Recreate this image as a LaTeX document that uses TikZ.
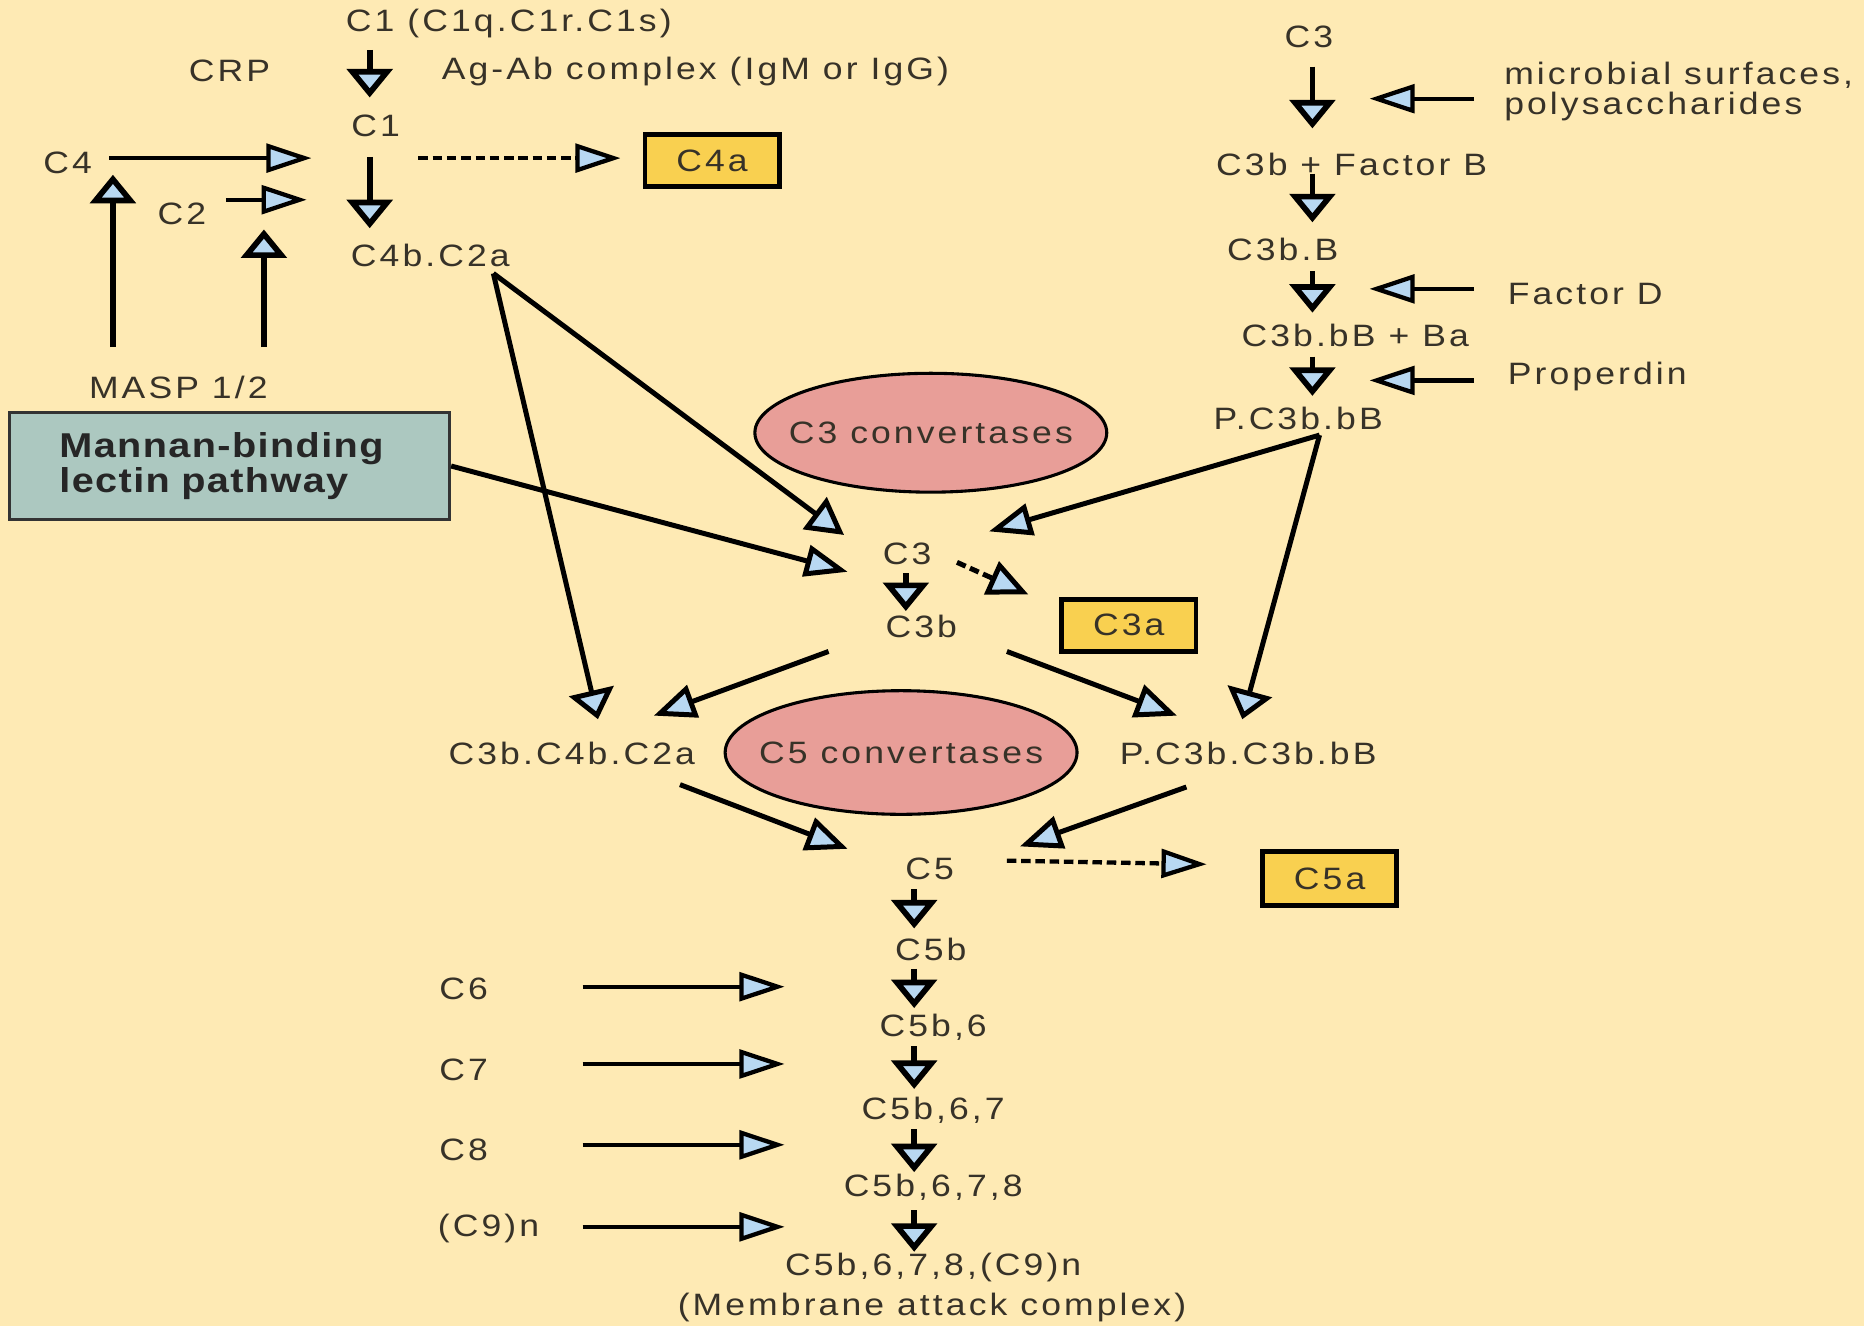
\documentclass[tikz,border=0pt]{standalone}
\usepackage{fontspec}
\setmainfont{Liberation Sans}[FakeStretch=1.15,LetterSpace=10]
\newfontfamily\boxfont{Liberation Sans}[FakeStretch=1.15,LetterSpace=4]
\usetikzlibrary{arrows.meta,shapes.geometric}
\definecolor{bg}{RGB}{254,234,180}
\definecolor{gold}{RGB}{249,208,80}
\definecolor{salmon}{RGB}{232,158,152}
\definecolor{teal}{RGB}{172,200,192}
\definecolor{arrowblue}{RGB}{184,216,242}
\definecolor{ink}{RGB}{55,50,40}
\begin{document}
\begin{tikzpicture}[x=0.5pt,y=-0.5pt,
  txt/.style={font=\fontsize{13}{12.5}\selectfont, text=ink, inner sep=0pt},
  ybox/.style={draw=black, line width=2pt, fill=gold, minimum width=56.5pt, minimum height=22pt, inner sep=0pt, font=\fontsize{13}{13}\selectfont, text=ink},
  ell/.style={ellipse, draw=black, line width=1.3pt, fill=salmon, minimum width=148pt, minimum height=50pt, inner sep=0pt},
  mbox/.style={draw=black!80, line width=1.5pt, fill=teal, minimum width=185pt, minimum height=45pt, inner xsep=21pt, inner ysep=0pt, text width=143pt, align=left, font=\fontsize{14.5}{12.5}\boxfont\bfseries, text=black!85},
  tip/.style 2 args={-{Triangle[length=#1pt,width=#2pt,fill=arrowblue]}},
  harr/.style={line width=1.8pt, tip={19}{12}},
  varr/.style={line width=2.4pt, tip={12}{19}},
  darr/.style={line width=2.1pt},
  dashline/.style={dash pattern=on 4pt off 2pt}]
\fill[bg] (0,0) rectangle (1568,1115);
% ---------- texts, classical pathway ----------
\node[txt] (c1full) at (428,20) {C1 (C1q.C1r.C1s)};
\node[txt] (crp) at (193,60) {CRP};
\node[txt] (agab) at (585,60) {Ag-Ab complex (IgM or IgG)};
\node[txt] (c1) at (316,106) {C1};
\node[txt] (c4) at (57,137) {C4};
\node[ybox] (c4a) at (599,135) {C4a};
\node[txt] (c2) at (153,180) {C2};
\node[txt] (c4bc2a) at (362,215) {C4b.C2a};
\node[txt] (masp) at (150,326) {MASP 1/2};
\node[mbox] (mbl) at (193,392) {Mannan-binding\\lectin pathway};
% ---------- convertases ----------
\node[ell] (c3conv) at (783,364) {};
\node[txt] (c3convt) at (c3conv) {C3 convertases};
\node[ell, minimum height=52pt] (c5conv) at (758,633) {};
\node[txt] (c5convt) at (c5conv) {C5 convertases};
% ---------- middle ----------
\node[txt] (c3) at (763,466) {C3};
\node[txt] (c3b) at (775,527) {C3b};
\node[ybox] (c3a) at (949.5,526) {C3a};
\node[txt] (c3bc4bc2a) at (481,634) {C3b.C4b.C2a};
\node[txt] (pc3bc3bbb) at (1050,634) {P.C3b.C3b.bB};
\node[txt] (c5) at (782,731) {C5};
\node[ybox, minimum height=23pt] (c5a) at (1118.5,739) {C5a};
\node[txt] (c5b) at (783,799) {C5b};
\node[txt] (c5b6) at (785,864) {C5b,6};
\node[txt] (c5b67) at (785,934) {C5b,6,7};
\node[txt] (c5b678) at (785,999) {C5b,6,7,8};
\node[txt] (mac) at (785,1066) {C5b,6,7,8,(C9)n};
\node[txt] (macl) at (784,1100) {(Membrane attack complex)};
\node[txt] (c6) at (390,832) {C6};
\node[txt] (c7) at (390,900) {C7};
\node[txt] (c8) at (390,967) {C8};
\node[txt] (c9n) at (411,1033) {(C9)n};
% ---------- alternative pathway ----------
\node[txt] (c3r) at (1101,31) {C3};
\node[txt, anchor=west, align=left] (micro) at (1265,77) {microbial surfaces,\\polysaccharides};
\node[txt] (c3bfb) at (1137,138) {C3b + Factor B};
\node[txt] (c3bB) at (1079,210) {C3b.B};
\node[txt, anchor=west] (factd) at (1268,247) {Factor D};
\node[txt] (c3bbB) at (1140,282) {C3b.bB + Ba};
\node[txt, anchor=west] (prop) at (1268,317) {Properdin};
\node[txt] (pc3bbb) at (1092,352) {P.C3b.bB};
% ---------- connector end points ----------
\coordinate (a1s) at (311,42);   \coordinate (a1e) at (311,82);
\coordinate (a2s) at (92,133);   \coordinate (a2e) at (262,133);
\coordinate (a3s) at (352,133);  \coordinate (a3e) at (522,133);
\coordinate (a4s) at (311,132);  \coordinate (a4e) at (311,192);
\coordinate (a5s) at (190,168);  \coordinate (a5e) at (258,168);
\coordinate (a6s) at (95,292);   \coordinate (a6e) at (95,147);
\coordinate (a7s) at (222,292);  \coordinate (a7e) at (222,193);
\coordinate (a8e) at (713,481);
\coordinate (a9s) at (415,230);  \coordinate (a9e) at (710,450);
\coordinate (a10e) at (503,605);
\coordinate (a11s) at (762,482); \coordinate (a11e) at (762,514);
\coordinate (a12s) at (805,473); \coordinate (a12e) at (865,500);
\coordinate (a13s) at (697,548); \coordinate (a13e) at (550,602);
\coordinate (a14s) at (847,548); \coordinate (a14e) at (990,602);
\coordinate (a15s) at (572,660); \coordinate (a15e) at (713,714);
\coordinate (a16s) at (998,662); \coordinate (a16e) at (858,712);
\coordinate (a17s) at (847,724); \coordinate (a17e) at (1015,727);
\coordinate (a18s) at (769,748); \coordinate (a18e) at (769,781);
\coordinate (a19s) at (769,815); \coordinate (a19e) at (769,848);
\coordinate (a20s) at (769,880); \coordinate (a20e) at (769,916);
\coordinate (a21s) at (769,950); \coordinate (a21e) at (769,986);
\coordinate (a22s) at (769,1018); \coordinate (a22e) at (769,1053);
\coordinate (a23s) at (490,830); \coordinate (a23e) at (660,830);
\coordinate (a24s) at (490,895); \coordinate (a24e) at (660,895);
\coordinate (a25s) at (490,963); \coordinate (a25e) at (660,963);
\coordinate (a26s) at (490,1032); \coordinate (a26e) at (660,1032);
\coordinate (a27s) at (1104,56); \coordinate (a27e) at (1104,108);
\coordinate (a28s) at (1240,83); \coordinate (a28e) at (1152,83);
\coordinate (a29s) at (1104,146); \coordinate (a29e) at (1104,187);
\coordinate (a30s) at (1104,228); \coordinate (a30e) at (1104,263);
\coordinate (a31s) at (1240,243); \coordinate (a31e) at (1152,243);
\coordinate (a32s) at (1104,300); \coordinate (a32e) at (1104,333);
\coordinate (a33s) at (1240,320); \coordinate (a33e) at (1152,320);
\coordinate (a34s) at (1110,366); \coordinate (a34e) at (832,447);
\coordinate (a35e) at (1045,605);
% ---------- connectors ----------
\draw[varr] (a1s) -- (a1e);
\draw[harr] (a2s) -- (a2e);
\draw[harr, dashline] (a3s) -- (a3e);
\draw[varr] (a4s) -- (a4e);
\draw[harr] (a5s) -- (a5e);
\draw[varr] (a6s) -- (a6e);
\draw[varr] (a7s) -- (a7e);
\draw[darr, tip={18}{13.3}] (mbl.east) -- (a8e);
\draw[darr, tip={15.4}{16.5}] (a9s) -- (a9e);
\draw[darr, tip={12.2}{19}] (a9s) -- (a10e);
\draw[varr] (a11s) -- (a11e);
\draw[darr, dashline, tip={17}{14.9}] (a12s) -- (a12e);
\draw[darr, tip={17.6}{14.2}] (a13s) -- (a13e);
\draw[darr, tip={17.5}{14.3}] (a14s) -- (a14e);
\draw[darr, tip={17.5}{14.3}] (a15s) -- (a15e);
\draw[darr, tip={17.7}{14}] (a16s) -- (a16e);
\draw[harr, dashline] (a17s) -- (a17e);
\draw[varr] (a18s) -- (a18e);
\draw[varr] (a19s) -- (a19e);
\draw[varr] (a20s) -- (a20e);
\draw[varr] (a21s) -- (a21e);
\draw[varr] (a22s) -- (a22e);
\draw[harr] (a23s) -- (a23e);
\draw[harr] (a24s) -- (a24e);
\draw[harr] (a25s) -- (a25e);
\draw[harr] (a26s) -- (a26e);
\draw[varr] (a27s) -- (a27e);
\draw[harr] (a28s) -- (a28e);
\draw[varr] (a29s) -- (a29e);
\draw[varr] (a30s) -- (a30e);
\draw[harr] (a31s) -- (a31e);
\draw[varr] (a32s) -- (a32e);
\draw[harr] (a33s) -- (a33e);
\draw[darr, tip={18}{13.5}] (a34s) -- (a34e);
\draw[darr, tip={12.2}{19}] (a34s) -- (a35e);
\end{tikzpicture}
\end{document}
